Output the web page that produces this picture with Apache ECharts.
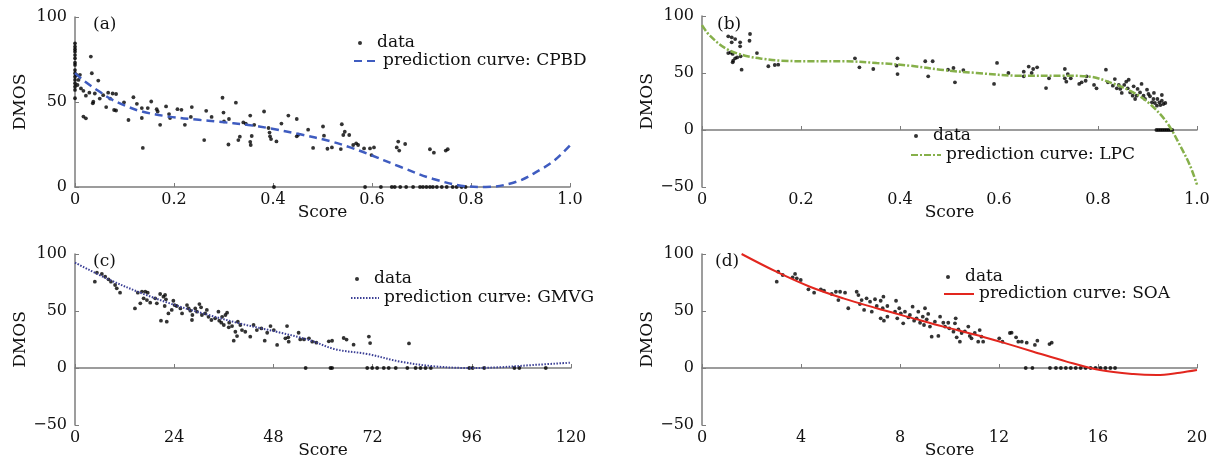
<!DOCTYPE html>
<html>
<head>
<meta charset="utf-8">
<script src="https://cdn.jsdelivr.net/npm/echarts@6.0.0/dist/echarts.min.js"></script>
<style>
  html, body { margin: 0; padding: 0; background: #fff; }
  #chart { width: 1221px; height: 469px; }
</style>
</head>
<body>
<div id="chart"></div>
<script>
// ---- data ----
const panelLabels = ['(a)', '(b)', '(c)', '(d)'];
const curveNames = ['prediction curve: CPBD', 'prediction curve: LPC', 'prediction curve: GMVG', 'prediction curve: SOA'];

const xTicksAB = [0, 0.2, 0.4, 0.6, 0.8, 1.0];
const xTicksC = [0, 24, 48, 72, 96, 120];
const xTicksD = [0, 4, 8, 12, 16, 20];

// (a) CPBD
const aData = [
  [0,84.5],[0,82.5],[0,81],[0,79.6],[0,77.6],[0,75.7],[0,73.1],[0,71.8],[0,68.8],[0,66.9],[0,64.9],[0,63],[0,61],[0,59],[0,57.1],[0,52.2],
  [0.003,66],[0.005,60],[0.007,63],[0.01,66],[0.012,58],[0.017,56.6],[0.022,53.7],[0.029,55.5],[0.032,76.7],[0.034,66.9],
  [0.036,49.2],[0.037,50.2],[0.047,62.6],[0.04,55],[0.05,52],[0.057,54],[0.063,47],[0.067,55.5],[0.071,52],[0.076,55],
  [0.083,54.7],[0.079,45.3],[0.083,45],[0.017,41.4],[0.022,40.4],[0.099,49.8],[0.108,39.4],[0.118,52.8],[0.125,48.9],
  [0.135,46.4],[0.135,40.6],[0.137,23],[0.147,46.4],[0.154,50.3],[0.165,45.8],[0.167,44.4],[0.172,36.6],[0.184,47.4],
  [0.192,40.6],[0.19,42.9],[0.207,45.8],[0.215,45.4],[0.222,36.6],[0.236,47],[0.234,41.2],[0.261,27.6],[0.265,44.8],
  [0.276,41.2],[0.298,52.5],[0.3,43.8],[0.301,38.6],[0.31,25],[0.311,40],[0.325,49.6],[0.33,27.6],[0.333,29.6],[0.34,38],
  [0.345,37.3],[0.354,42],[0.354,26.6],[0.355,24.7],[0.357,30],[0.362,36.6],[0.382,44.4],[0.391,34.7],[0.393,32],
  [0.394,29.8],[0.396,28.2],[0.407,26.8],[0.417,37.3],[0.431,42],[0.448,40],[0.448,29.8],[0.451,30.8],[0.471,33.7],
  [0.481,23],[0.501,35.6],[0.503,30.2],[0.51,22.5],[0.519,23.3],[0.537,22.3],[0.539,36.9],[0.542,30.6],[0.545,32.5],
  [0.554,30.6],[0.562,24.7],[0.568,25.7],[0.572,24.7],[0.584,22.7],[0.596,22.7],[0.599,18.8],[0.604,23.3],[0.65,23.3],
  [0.653,26.7],[0.655,21.4],[0.667,25.3],[0.717,22.2],[0.725,20.2],[0.749,21.4],[0.753,22.2],
  [0.402,0],[0.586,0],[0.618,0],[0.64,0],[0.646,0],[0.657,0],[0.669,0],[0.683,0],[0.697,0],[0.703,0],[0.71,0],
  [0.717,0],[0.723,0],[0.731,0],[0.741,0],[0.751,0],[0.763,0],[0.771,0],[0.781,0],[0.789,0]
];
const aCurve = [
  [0,67],[0.02,62],[0.05,56],[0.071,52],[0.1,48],[0.135,44.4],[0.19,41.4],[0.25,39.5],[0.29,38.4],[0.35,36.5],
  [0.394,34.5],[0.455,31],[0.515,27],[0.556,23.3],[0.589,19.8],[0.657,11.9],[0.724,4.7],[0.791,0.4],[0.83,0],
  [0.892,3.1],[0.939,10],[0.97,16],[1.0,24.5]
];

// (b) LPC
const bData = [
  [0.053,82.2],[0.06,81.3],[0.067,79.8],[0.06,76.9],[0.077,76.9],[0.077,73.4],[0.097,84.2],[0.096,78.3],[0.111,67.5],
  [0.053,67.5],[0.058,68],[0.062,66.7],[0.063,60.8],[0.067,62.9],[0.071,63.7],[0.078,64.6],[0.062,59.4],[0.08,52.9],
  [0.134,55.9],[0.147,57],[0.154,57.3],[0.309,62.9],[0.318,55],[0.346,53.5],[0.395,62.9],[0.393,56.4],[0.395,49.1],
  [0.451,60.3],[0.466,60.3],[0.457,47.1],[0.497,52.9],[0.508,54.4],[0.511,41.8],[0.528,52.6],[0.59,40.4],[0.596,58.8],
  [0.619,50],[0.65,51.2],[0.65,47.1],[0.66,55.6],[0.669,53.5],[0.677,55],[0.666,50],[0.695,36.8],[0.701,45.3],
  [0.733,53.5],[0.733,45.3],[0.739,49.1],[0.736,42.4],[0.745,45.3],[0.762,40.4],[0.767,41.8],[0.775,43.2],[0.777,47.1],
  [0.792,39.5],[0.797,36.6],[0.816,52.9],[0.82,41.8],[0.83,38.9],[0.834,44.7],[0.838,36.6],[0.845,36],[0.842,39.5],
  [0.848,32.5],[0.853,39.5],[0.857,42.4],[0.862,44.1],[0.86,36.6],[0.865,33],[0.872,38.3],[0.87,30.1],[0.875,27.2],
  [0.878,30.1],[0.88,36],[0.885,33],[0.888,40.4],[0.892,30.1],[0.895,27.2],[0.899,35.4],[0.902,31.6],[0.905,29.6],
  [0.909,24.3],[0.912,27.2],[0.913,32.5],[0.915,23.7],[0.919,21.3],[0.92,27.2],[0.924,24.3],[0.929,25.7],[0.926,21.9],
  [0.932,22.8],[0.936,23.7],[0.929,30.7],
  [0.918,0],[0.922,0],[0.926,0],[0.93,0],[0.934,0],[0.938,0],[0.942,0],[0.946,0],[0.95,0]
];
const bCurve = [
  [0,92],[0.016,82.7],[0.05,71],[0.087,65.2],[0.125,62.3],[0.16,60.8],[0.218,60.3],[0.285,60.3],[0.353,58.8],
  [0.42,56.4],[0.488,52.6],[0.555,50],[0.642,47.6],[0.737,47.6],[0.784,46.8],[0.824,41.8],[0.871,33],[0.905,22.8],
  [0.939,6.7],[0.966,-13.8],[0.986,-31.3],[1.0,-48]
];

// (c) GMVG
const cData = [
  [4.8,75.7],[5.3,83.6],[6.5,82.5],[7.3,80.1],[8.1,77.8],[8.7,75.7],[9.7,72.8],[10.1,69.9],[10.9,66.1],[14.5,52.3],
  [15.2,66.1],[16.2,67],[15.8,56.7],[17,67],[17.6,66.1],[16.6,61.1],[17.4,59.6],[18.2,57.3],[19.4,61.1],[19.8,56.7],
  [20.6,64.9],[20.8,41.5],[21.4,62.6],[21.8,64.1],[22,60.2],[21.7,54.4],[22.2,40.6],[22.6,47.9],[23.4,50.9],[23.8,59],
  [24.1,55.2],[24.6,54.4],[25.5,52.3],[25.9,47.9],[27.1,55.2],[27.5,52.3],[27.9,50.3],[28.3,42.1],[28.4,46.5],[29.1,52.3],
  [29.5,49.4],[30.1,56.1],[30.5,53.2],[30.7,46.5],[31.5,47.9],[31.9,50.9],[32.3,44.9],[33,42.1],[33.9,43.6],[34.7,49.4],
  [34.9,41.5],[35.4,39.8],[35.6,44.9],[36,37.7],[36.4,46.5],[36.8,48.5],[37.2,35.7],[37.3,39.8],[38,36.8],[38.4,24],
  [38.8,31.8],[39.2,28],[39.4,40.6],[40,37.7],[40.4,33.3],[41.2,31.8],[42.4,27.5],[43.2,37.7],[44,33.3],[45.1,34.7],
  [45.9,24],[46.5,30.9],[47.3,36.8],[48.1,33.3],[48.9,20.2],[51.3,36.8],[50.9,26],[51.6,26.9],[51.7,23.1],[54.1,30.9],
  [54.5,25.1],[55.4,25.1],[56.6,26],[57.4,23.1],[58.4,22.2],[61.4,23.4],[62.2,23.9],[65,26.3],[65.7,24.9],[67.4,20.5],
  [71.1,27.6],[71.4,21.9],[80.8,21.6],
  [55.8,0],[61.8,0],[62.2,0],[70.7,0],[71.9,0],[73.1,0],[74.7,0],[75.9,0],[77.6,0],[80.4,0],[82.4,0],[83.6,0],[84.8,0],
  [86.1,0],[95.4,0],[96.2,0],[99,0],[106.3,0],[107.5,0],[113.9,0]
];
const cCurve = [
  [0,92.4],[8.1,77.8],[16.2,65.5],[24.2,55.2],[32.3,46.5],[40.4,38.6],[48.5,32],[56.6,24.6],[63,16.4],[70.7,12.3],
  [78.8,5.5],[86.9,1.5],[95.4,0],[102.6,0.6],[110.7,2.6],[120,4.7]
];

// (d) SOA
const dData = [
  [3.02,75.7],[3.08,84.5],[3.26,81.6],[3.66,79.5],[3.76,82.5],[3.83,78.7],[3.99,77.2],[4.3,69],[4.53,66.1],[4.8,69],
  [4.93,67.8],[5.24,64.9],[5.41,66.9],[5.51,59.6],[5.58,66.9],[5.78,66.1],[5.91,52.4],[6.25,66.9],[6.32,64],[6.38,56.1],
  [6.45,59.6],[6.55,50.9],[6.65,61.1],[6.79,58.2],[6.86,49.4],[6.99,60.3],[7.06,54.4],[7.22,59],[7.3,52.4],[7.33,62.6],
  [7.22,43.6],[7.35,41.5],[7.49,45],[7.49,54.4],[7.8,49.4],[7.84,59],[7.89,43.6],[7.97,52.4],[8.03,48],[8.13,39.2],
  [8.2,49.4],[8.34,44.4],[8.4,46.5],[8.51,53.8],[8.57,41.5],[8.67,43.6],[8.74,49.4],[8.81,39.7],[8.92,45],[8.97,37.7],
  [9.01,52.4],[9.08,42.7],[9.14,47.4],[9.21,36.3],[9.28,27.5],[9.41,40.6],[9.55,28.1],[9.62,45],[9.75,39.7],[9.82,36.3],
  [9.95,39.7],[9.99,34.8],[10.16,31.9],[10.22,39.2],[10.25,43.6],[10.29,26.9],[10.36,33.9],[10.42,23.1],[10.49,30.7],
  [10.62,32.2],[10.76,36.3],[10.82,28.1],[10.89,26],[11.02,30.7],[11.16,23.1],[11.22,33.3],[11.29,27.5],[11.36,23.1],
  [12.01,26],[12.14,23.1],[12.44,30.7],[12.51,31],[12.69,26.9],[12.78,23.1],[12.92,23.1],[13.12,22.2],[13.45,20.2],
  [13.55,24],[14.04,21],[14.13,22.2],
  [13.08,0],[13.35,0],[14.06,0],[14.3,0],[14.5,0],[14.7,0],[14.9,0],[15.1,0],[15.3,0],[15.5,0],[15.7,0],[15.9,0],
  [16.1,0],[16.3,0],[16.5,0],[16.69,0]
];
const dCurve = [
  [1.6,100],[3.0,84.5],[4.36,71.3],[5.71,61.1],[7.06,52.4],[8.4,44.4],[9.75,36.3],[11.09,29],[12.04,23.1],[13.39,14.3],
  [14.73,5.6],[16.08,-1.8],[17.43,-5.3],[18.37,-6.1],[19.31,-4.1],[20,-1.8]
];

// ---- styling / layout ----
const FONT = 'DejaVu Serif';
const AXIS_GRAY = '#7c7c7c';
const TXT = '#111';

const grids = [
  { left: 75, top: 17, width: 495, height: 170 },
  { left: 702, top: 16, width: 495, height: 171 },
  { left: 75, top: 254, width: 496, height: 171 },
  { left: 702, top: 254, width: 495, height: 171 }
];

const fmtUnit = v => (v === 0 ? '0' : v.toFixed(1));
const fmtInt = v => String(v).replace('-', '\u2212');

function xAxis(i, ticks, fmt) {
  return {
    type: 'value', gridIndex: i,
    min: ticks[0], max: ticks[ticks.length - 1], interval: ticks[1] - ticks[0],
    name: 'Score', nameLocation: 'middle', nameGap: 17, nameMoveOverlap: false,
    nameTextStyle: { fontFamily: FONT, fontSize: 17, color: TXT },
    axisLine: { lineStyle: { color: AXIS_GRAY, width: 1.5 } },
    axisTick: { inside: true, length: 4, lineStyle: { color: AXIS_GRAY } },
    axisLabel: { fontFamily: FONT, fontSize: 16, color: TXT, margin: 5, formatter: fmt },
    splitLine: { show: false }
  };
}
function yAxis(i, min) {
  return {
    type: 'value', gridIndex: i, min: min, max: 100, interval: 50,
    name: 'DMOS', nameLocation: 'middle', nameGap: 46, nameRotate: 90, nameMoveOverlap: false,
    nameTextStyle: { fontFamily: FONT, fontSize: 17, color: TXT },
    axisLine: { show: true, lineStyle: { color: AXIS_GRAY, width: 1.5 } },
    axisTick: { show: true, inside: true, length: 4, lineStyle: { color: AXIS_GRAY } },
    axisLabel: { fontFamily: FONT, fontSize: 16, color: TXT, margin: 8, formatter: fmtInt },
    splitLine: { show: false }
  };
}

const curveStyles = [
  { color: '#3f5cc0', width: 2.5, type: [8, 5] },
  { color: '#86b04a', width: 2.5, type: [7, 2, 2, 2] },
  { color: '#3b3f95', width: 2, type: [1.5, 1.5] },
  { color: '#e2261e', width: 2, type: 'solid' }
];
const allData = [aData, bData, cData, dData];
const allCurves = [aCurve, bCurve, cCurve, dCurve];

const series = [];
allData.forEach((d, i) => {
  series.push({
    name: 'data', type: 'scatter', xAxisIndex: i, yAxisIndex: i,
    symbol: 'circle', symbolSize: 3.8, clip: false,
    itemStyle: { color: '#000' }, data: d, z: 2
  });
  series.push({
    name: curveNames[i], type: 'line', xAxisIndex: i, yAxisIndex: i,
    showSymbol: false, symbol: 'none', smooth: 0.35, clip: false,
    lineStyle: curveStyles[i], itemStyle: { color: curveStyles[i].color },
    data: allCurves[i], z: 3
  });
});

// legend rows: [dotLeft, dataTop, lineLeft, lineWidth, curveTop]
const legendPos = [
  [358, 34, 353, 24, 52],
  [914, 127, 910, 30, 146],
  [355, 270, 350, 28, 289],
  [946, 268, 943, 30, 285]
];
const legends = [];
legendPos.forEach((p, i) => {
  const ts = { fontFamily: FONT, fontSize: 17, color: TXT, lineHeight: 18 };
  legends.push({ data: ['data'], left: p[0], top: p[1], itemWidth: 24, itemHeight: 4, padding: 0,
    selectedMode: false, textStyle: ts });
  legends.push({ data: [curveNames[i]], left: p[2], top: p[4], itemWidth: p[3], itemHeight: 4, padding: 0,
    selectedMode: false, textStyle: ts, itemStyle: { opacity: 0 } });
});

const titlePos = [[93, 16], [717, 16], [93, 253], [715, 253]];
const titles = panelLabels.map((t, i) => ({
  text: t, left: titlePos[i][0], top: titlePos[i][1], padding: 0,
  textStyle: { fontFamily: FONT, fontSize: 17, fontWeight: 'normal', color: TXT }
}));

const option = {
  animation: false,
  backgroundColor: '#fff',
  title: titles,
  legend: legends,
  grid: grids,
  xAxis: [xAxis(0, xTicksAB, fmtUnit), xAxis(1, xTicksAB, fmtUnit), xAxis(2, xTicksC, fmtInt), xAxis(3, xTicksD, fmtInt)],
  yAxis: [yAxis(0, 0), yAxis(1, -50), yAxis(2, -50), yAxis(3, -50)],
  series
};

const myChart = echarts.init(document.getElementById('chart'), null, { renderer: 'canvas' });
myChart.setOption(option);
</script>
</body>
</html>
